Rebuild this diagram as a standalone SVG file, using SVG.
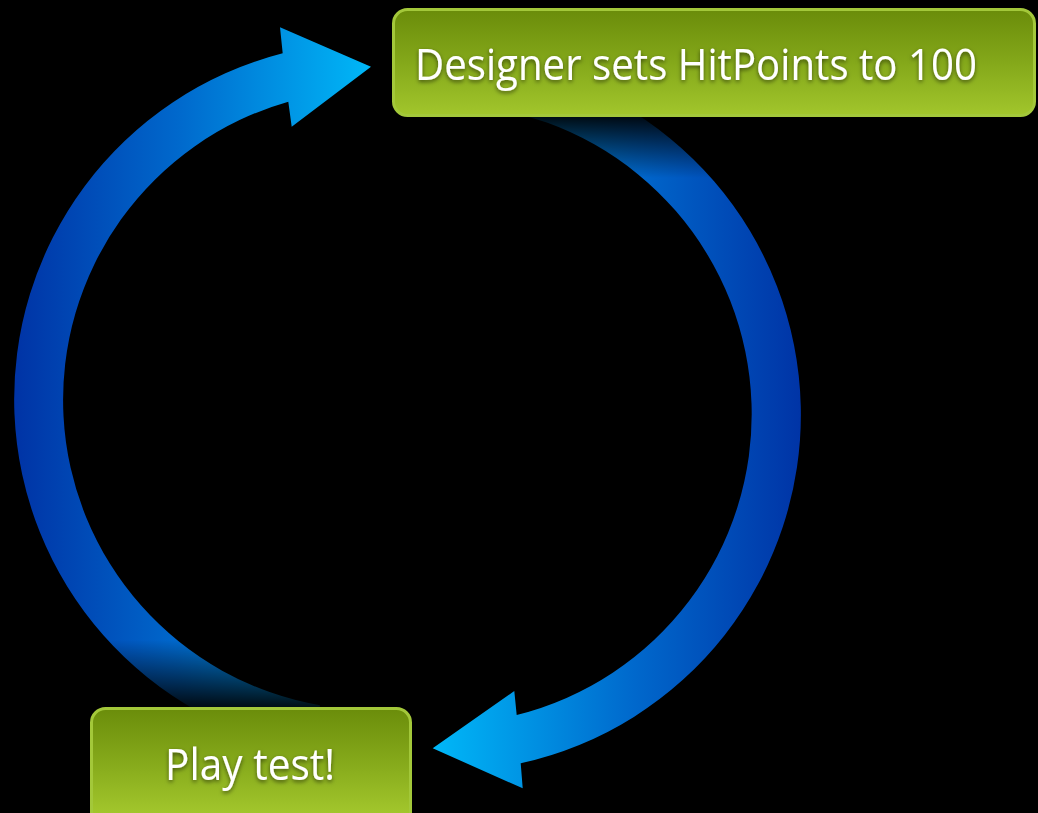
<svg xmlns="http://www.w3.org/2000/svg" width="1038" height="813" viewBox="0 0 1038 813">
  <defs>
    <linearGradient id="gLeft" gradientUnits="userSpaceOnUse" x1="17" y1="0" x2="372" y2="0">
      <stop offset="0" stop-color="#0034a6"/>
      <stop offset="0.45" stop-color="#0068cc"/>
      <stop offset="1" stop-color="#00b8f8"/>
    </linearGradient>
    <linearGradient id="gRight" gradientUnits="userSpaceOnUse" x1="800" y1="0" x2="433" y2="0">
      <stop offset="0" stop-color="#0034a6"/>
      <stop offset="0.45" stop-color="#0068cc"/>
      <stop offset="1" stop-color="#00b8f8"/>
    </linearGradient>
    <linearGradient id="fadeDown" x1="0" y1="0" x2="0" y2="1">
      <stop offset="0" stop-color="#000" stop-opacity="0"/>
      <stop offset="1" stop-color="#000" stop-opacity="0.92"/>
    </linearGradient>
    <linearGradient id="fadeUp" x1="0" y1="0" x2="0" y2="1">
      <stop offset="0" stop-color="#000" stop-opacity="0.92"/>
      <stop offset="1" stop-color="#000" stop-opacity="0"/>
    </linearGradient>
    <linearGradient id="boxFill" x1="0" y1="0" x2="0" y2="1">
      <stop offset="0" stop-color="#6a8c0a"/>
      <stop offset="0.5" stop-color="#84a81a"/>
      <stop offset="1" stop-color="#a2c62c"/>
    </linearGradient>
    <linearGradient id="boxFillB" gradientUnits="userSpaceOnUse" x1="0" y1="707" x2="0" y2="813">
      <stop offset="0" stop-color="#6a8c0a"/>
      <stop offset="0.5" stop-color="#84a81a"/>
      <stop offset="1" stop-color="#a2c62c"/>
    </linearGradient>
    <filter id="tshadow" x="-10%" y="-30%" width="120%" height="160%">
      <feDropShadow dx="0" dy="2" stdDeviation="2" flood-color="#000" flood-opacity="0.55"/>
    </filter>
  </defs>
  <style>
    .box { stroke: #a3c83a; stroke-width: 3; }
    .label { font-family: "Open Sans", "Noto Sans", "DejaVu Sans", sans-serif; font-size: 44px; fill: #ffffff; filter: url(#tshadow); }
  </style>
  <rect width="1038" height="813" fill="#000"/>

  <g id="connectors">
    <path id="arc-left" fill="url(#gLeft)" d="M282.7,53.3 L280,27.3 L371,66.7 L291.7,126.7 L288.3,101.7 A310,310 0 0 0 320,705.3 L311.8,751.2 A357,357 0 0 1 282.7,53.3 Z"/>
    <path id="arc-right" fill="url(#gRight)" d="M520.7,763.3 L522.7,788.3 L432.7,748.3 L514.3,691 L516.7,715 A310,310 0 0 0 496,109 L504.2,62.8 A357,357 0 0 1 520.7,763.3 Z"/>
    <rect x="100" y="640" width="320" height="68" fill="url(#fadeDown)"/>
    <rect x="480" y="116" width="260" height="62" fill="url(#fadeUp)"/>
  </g>

  <g id="node-designer">
    <rect class="box" x="393.5" y="9.5" width="641" height="106" rx="14" ry="14" fill="url(#boxFill)"/>
    <text class="label" x="415" y="80" textLength="562" lengthAdjust="spacingAndGlyphs">Designer sets HitPoints to 100</text>
  </g>

  <g id="node-playtest">
    <rect class="box" x="91.5" y="708.5" width="319" height="130" rx="14" ry="14" fill="url(#boxFillB)"/>
    <text class="label" x="165" y="780" textLength="170" lengthAdjust="spacingAndGlyphs">Play test!</text>
  </g>
</svg>
